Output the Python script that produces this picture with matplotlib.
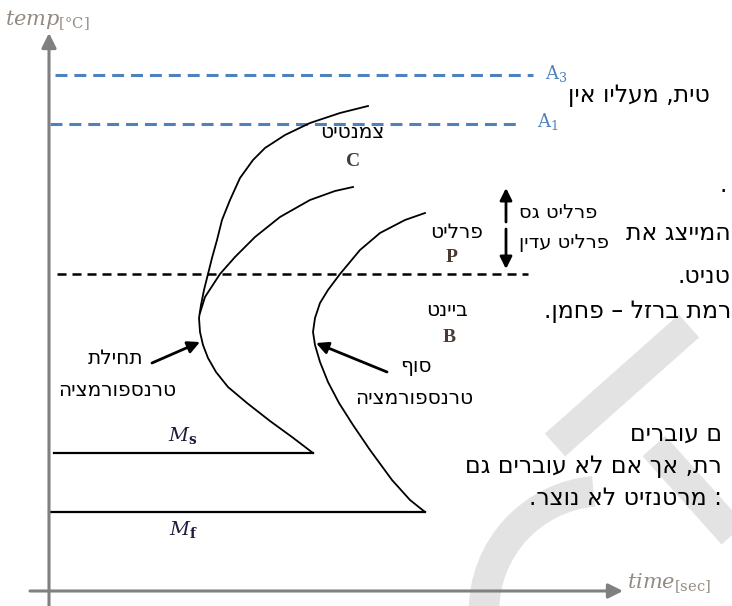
import matplotlib
matplotlib.use('Agg')
import matplotlib.pyplot as plt
from matplotlib.patches import Arc
import numpy as np

plt.rcParams['font.family'] = ['DejaVu Sans']
plt.rcParams['mathtext.fontset'] = 'dejavuserif'
plt.rcParams['lines.scale_dashes'] = False

# schematic units: t = time from the temp axis, T = temperature above the time axis
A3 = 516
A1 = 467
T_pb = 317      # border pearlite / bainite
Ms = 138
Mf = 79

# start of transformation (upper branch down to the nose, then down to Ms)
start_t = [319, 291, 261, 236, 216, 204, 191, 181, 173, 168, 163, 159, 155, 152, 150,
           151, 154, 159, 167, 179, 198, 221, 243, 264]
start_T = [485, 478, 468, 456, 443, 431, 413, 391, 371, 351, 333, 317, 301, 286, 273,
           259, 246, 233, 219, 204, 188, 170, 154, 138]

# second branch joining the nose
branch_t = [304, 286, 261, 231, 206, 186, 171, 156, 151]
branch_T = [404, 400, 391, 374, 354, 334, 317, 294, 278]

# end of transformation
end_t = [376, 356, 331, 311, 291, 279, 271, 266, 264, 266, 271, 279, 290, 304, 321, 343, 361, 376]
end_T = [378, 371, 358, 341, 317, 301, 288, 273, 259, 246, 229, 209, 188, 166, 141, 111, 91, 79]


def rtl(s):
    # matplotlib lays glyphs out left to right, Hebrew is written the other way
    return s[::-1]


fig = plt.figure(figsize=(7.32, 6.06), dpi=100)
ax = fig.add_axes([0, 0, 1, 1])
ax.set_xlim(-49, 683)
ax.set_ylim(-15, 591)
ax.axis('off')

# watermark
wm = '#e3e3e3'
ax.plot([506, 640], [146, 265], color=wm, lw=22, solid_capstyle='butt', zorder=0)
ax.plot([605, 690], [145, 50], color=wm, lw=22, solid_capstyle='butt', zorder=0)
ax.add_patch(Arc((555, -20), 240, 240, theta1=95, theta2=180, color=wm, lw=22, zorder=0))

# text of the page around the figure
page_fs = 17
ax.text(661, 496, rtl('טית, מעליו אין'), fontsize=page_fs, ha='right', va='center')
ax.text(678, 406, '.', fontsize=page_fs, ha='right', va='center')
ax.text(682, 358, rtl('המייצג את'), fontsize=page_fs, ha='right', va='center')
ax.text(682, 315, rtl('טניט.'), fontsize=page_fs, ha='right', va='center')
ax.text(682, 280, rtl('רמת ברזל – פחמן.'), fontsize=page_fs, ha='right', va='center')
ax.text(673, 157, rtl('ם עוברים'), fontsize=page_fs, ha='right', va='center')
ax.text(673, 125, rtl('רת, אך אם לא עוברים גם'), fontsize=page_fs, ha='right', va='center')
ax.text(673, 93, rtl(': מרטנזיט לא נוצר.'), fontsize=page_fs, ha='right', va='center')

# axes with arrow heads
axis_c = '#808080'
ax.annotate('', xy=(0, 558), xytext=(0, -15),
            arrowprops=dict(arrowstyle='-|>', color=axis_c, lw=2.2, mutation_scale=22,
                            shrinkA=0, shrinkB=0))
ax.annotate('', xy=(574, 0), xytext=(-19, 0),
            arrowprops=dict(arrowstyle='-|>', color=axis_c, lw=2.2, mutation_scale=22,
                            shrinkA=0, shrinkB=0))
lab_c = '#948a80'
ax.text(-44, 571, r'$\mathit{temp}_{\mathrm{[°C]}}$', fontsize=15, color=lab_c, va='center')
ax.text(578, 8, r'$\mathit{time}_{\mathrm{[sec]}}$', fontsize=15, color=lab_c, va='center')

# critical temperatures
blue = '#4f81bd'
ax.plot([6, 484], [A3, A3], color=blue, lw=2.2, ls=(0, (8.6, 5)))
ax.plot([1, 471], [A1, A1], color=blue, lw=2.2, ls=(0, (8.6, 5)))
ax.text(496, A3 + 2, r'$\mathrm{A}_3$', fontsize=13, color=blue, va='center')
ax.text(488, A1 + 3, r'$\mathrm{A}_1$', fontsize=13, color=blue, va='center')
ax.plot([8, 479], [T_pb, T_pb], color='k', lw=1.8, ls=(0, (6.5, 4.3)))

# martensite lines
ax.plot([5, start_t[-1]], [Ms, Ms], color='k', lw=1.6)
ax.plot([0, end_t[-1]], [Mf, Mf], color='k', lw=1.6)
ax.text(134, 156, r'$M_\mathbf{s}$', fontsize=14, color='#1e1e3c', ha='center', va='center')
ax.text(134, 61, r'$M_\mathbf{f}$', fontsize=14, color='#1e1e3c', ha='center', va='center')

# transformation curves
ax.plot(start_t, start_T, color='k', lw=1.3)
ax.plot(branch_t, branch_T, color='k', lw=1.3)
ax.plot(end_t, end_T, color='k', lw=1.3)

# phase regions
lab_fs = 14.5
ax.text(303, 459, rtl('צמנטיט'), fontsize=lab_fs, ha='center', va='center')
ax.text(304, 430, 'C', fontsize=14, fontweight='bold', family='Liberation Serif',
        color='#3a3a48', ha='center', va='center')
ax.text(408, 359, rtl('פרליט'), fontsize=lab_fs, ha='center', va='center')
ax.text(403, 334, 'P', fontsize=14, fontweight='bold', family='Liberation Serif',
        color='#4a3a30', ha='center', va='center')
ax.text(398, 281, rtl('ביינט'), fontsize=lab_fs, ha='center', va='center')
ax.text(400, 254, 'B', fontsize=14, fontweight='bold', family='Liberation Serif',
        color='#4a3a30', ha='center', va='center')

# coarse / fine pearlite
arrow_k = dict(arrowstyle='-|>', color='k', lw=2, mutation_scale=18, shrinkA=0, shrinkB=0)
ax.annotate('', xy=(457, 403), xytext=(457, 369), arrowprops=arrow_k)
ax.annotate('', xy=(457, 322), xytext=(457, 362), arrowprops=arrow_k)
ax.text(470, 378, rtl('פרליט גס'), fontsize=14, ha='left', va='center')
ax.text(470, 349, rtl('פרליט עדין'), fontsize=14, ha='left', va='center')

# start / end of transformation
ax.annotate('', xy=(151, 249), xytext=(103, 228), arrowprops=arrow_k)
ax.text(67, 233, rtl('תחילת'), fontsize=lab_fs, ha='center', va='center')
ax.text(68, 201, rtl('טרנספורמציה'), fontsize=lab_fs, ha='center', va='center')
ax.annotate('', xy=(267, 248), xytext=(338, 219), arrowprops=arrow_k)
ax.text(367, 224, rtl('סוף'), fontsize=lab_fs, ha='center', va='center')
ax.text(365, 193, rtl('טרנספורמציה'), fontsize=lab_fs, ha='center', va='center')

fig.savefig('out.png', dpi=100)
